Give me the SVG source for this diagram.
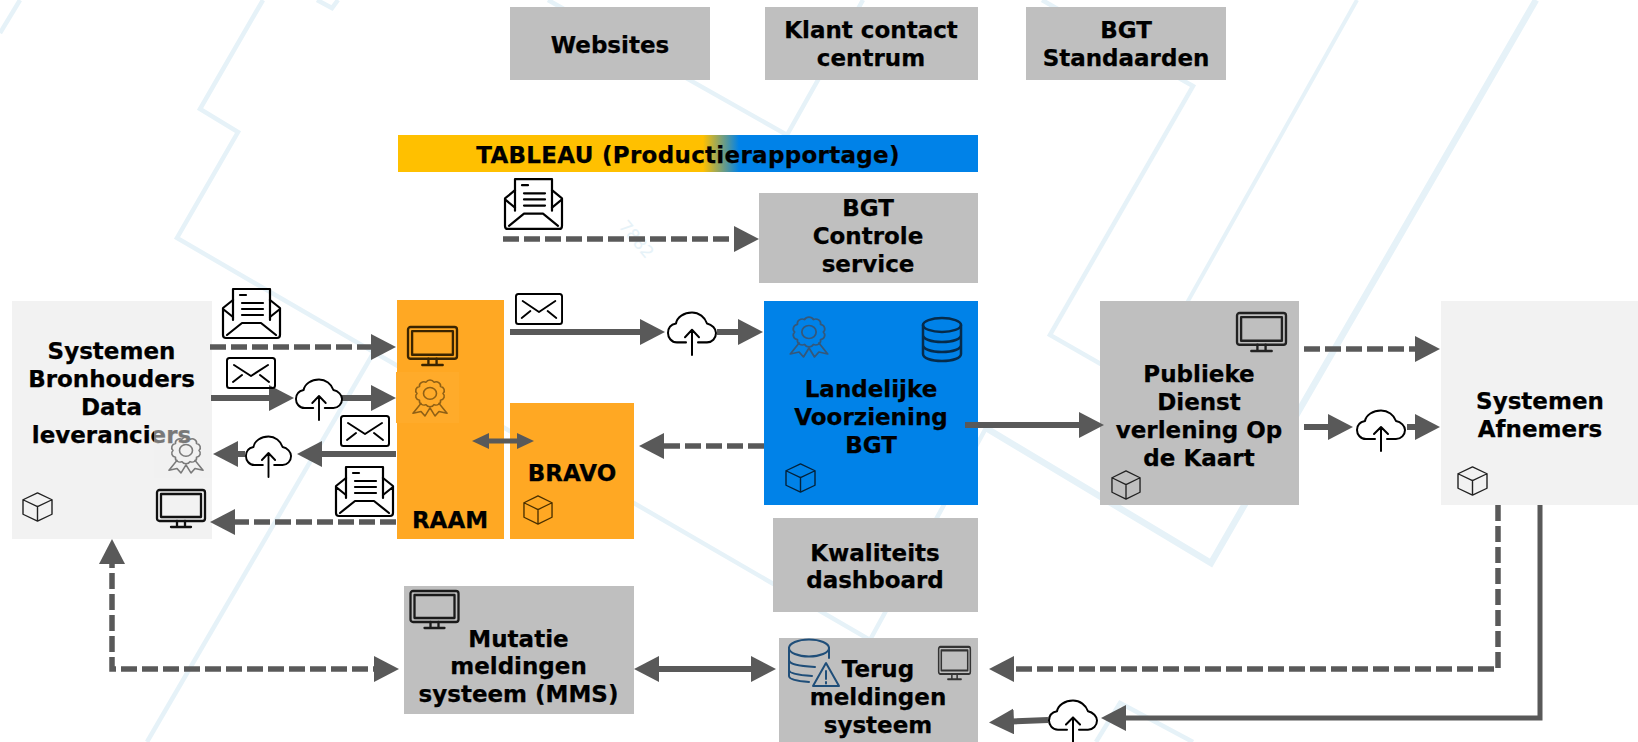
<svg xmlns="http://www.w3.org/2000/svg" width="1638" height="742" viewBox="0 0 1638 742">
<style>
text{font-family:"DejaVu Sans","Liberation Sans",sans-serif;font-weight:700;font-size:23px;fill:#000;stroke:#000;stroke-width:.25;text-anchor:middle}
.grey{fill:#BFBFBF}.orange{fill:#FFA823}.blue{fill:#0082E8}.light{fill:#F2F2F2}
.bg{fill:none;stroke:#E6F2F8;stroke-width:4.500;stroke-linejoin:miter}
.c{fill:none;stroke:#595959;stroke-width:6}
.d{stroke-width:5.500;stroke-dasharray:16 5}
.a{marker-end:url(#head)}
.b{marker-start:url(#head);marker-end:url(#head)}
.i{fill:none;stroke:currentColor;stroke-width:2;stroke-linejoin:round;stroke-linecap:round}
</style>
<defs>
<marker id="head" markerUnits="userSpaceOnUse" viewBox="0 0 25 26" markerWidth="25" markerHeight="26" refX="15" refY="13" orient="auto-start-reverse"><path d="M0 0L25 13L0 26Z" fill="#595959"/></marker>
<marker id="small" markerUnits="userSpaceOnUse" viewBox="0 0 17 16" markerWidth="17" markerHeight="16" refX="9" refY="8" orient="auto-start-reverse"><path d="M0 0L17 8L0 16Z" fill="#595959"/></marker>
<linearGradient id="tab" gradientUnits="userSpaceOnUse" x1="703" x2="739" y1="0" y2="0"><stop offset="0" stop-color="#FFC000"/><stop offset="1" stop-color="#0082E8"/></linearGradient>
<symbol id="cloud" viewBox="0 0 50 41" preserveAspectRatio="none" overflow="visible"><path class="i" d="M19 29H10C4 29 1 24 1 20C1 15 4 12 9 11C10 5 17 .5 25 .5C32 .5 38 5 40 11C45 12 49 16 49 20C49 25 45 29 40 29H31M25 41V17M18 24L25 17L32 24"/></symbol>
<symbol id="monitor" viewBox="0 0 50 40" preserveAspectRatio="none" overflow="visible"><g class="i" style="stroke-width:2.300"><rect x="1" y="1" width="48" height="31" rx="2.500"/><rect x="5" y="5" width="40" height="23"/><path d="M21 32V37M29 32V37M15 38H35"/></g></symbol>
<symbol id="env" viewBox="0 0 50 32" preserveAspectRatio="none" overflow="visible"><g class="i"><rect x="1" y="1" width="48" height="30" rx="2.500"/><path d="M8 8L25 19L42 8M7 25L16 18M43 25L34 18"/></g></symbol>
<symbol id="envdoc" viewBox="0 0 59 51" preserveAspectRatio="none" overflow="visible"><g class="i" style="stroke-width:2.200"><path d="M11 12L1 20V47Q1 50 4 50H55Q58 50 58 47V20L48 12M1 21L11 29M58 21L48 29M5 47L20 35H39L54 47"/><path d="M11 32V1H48V32"/><path d="M18 7H24M20 15H41M20 21H41M20 27H41"/></g></symbol>
<symbol id="award" viewBox="0 -3 40 41" preserveAspectRatio="none" overflow="visible"><g class="i" style="stroke-width:1.600"><path d="M33 13A4.500 4.500 0 0 1 30.500 20.600A4.500 4.500 0 0 1 24 25.400A4.500 4.500 0 0 1 16 25.400A4.500 4.500 0 0 1 9.500 20.600A4.500 4.500 0 0 1 7 13A4.500 4.500 0 0 1 9.500 5.400A4.500 4.500 0 0 1 16 .6A4.500 4.500 0 0 1 24 .6A4.500 4.500 0 0 1 30.500 5.400A4.500 4.500 0 0 1 33 13Z"/><circle cx="20" cy="13" r="6.500"/><path d="M11 24L3 35L11 33L15 38L20 29L25 38L29 33L37 35L29 24"/></g></symbol>
<symbol id="cube" viewBox="0 0 31 31" preserveAspectRatio="none" overflow="visible"><g class="i" style="stroke-width:1.400"><path d="M15.500 1L30 8V23L15.500 30L1 23V8ZM1 8L15.500 15L30 8M15.500 15V30"/></g></symbol>
<symbol id="db" viewBox="0 0 40 45" preserveAspectRatio="none" overflow="visible"><g class="i" style="stroke-width:2.500"><ellipse cx="20" cy="8" rx="19" ry="7"/><path d="M1 8V37C1 41 9 44 20 44C31 44 39 41 39 37V8M1 18C1 22 9 25 20 25C31 25 39 22 39 18M1 28C1 32 9 35 20 35C31 35 39 32 39 28"/></g></symbol>
</defs>
<rect width="1638" height="742" fill="#fff"/>
<g id="background">
<path class="bg" d="M20 0L0 33"/>
<path class="bg" d="M263 0L200 109L238 132L177 238L870 640L986 428"/>
<path class="bg" d="M317 0L332 8L338 0"/>
<path class="bg" d="M374 352L147 742"/>
<path class="bg" d="M548 0L787 135L863 0"/>
<path class="bg" d="M1042 0L1193 86L1050 335L1120 375"/>
<path class="bg" d="M1357 0L1110 440" style="stroke-width:4"/>
<path class="bg" d="M1536 0L1211 563L986 428" style="stroke-width:6.500"/>
<path class="bg" d="M1096 742L1120 703L1193 742"/>
<text transform="translate(632 243) rotate(50)" style="fill:#E6F2F8;stroke:none;font-size:17px;font-weight:400">7882</text>
</g>
<g id="node-websites"><rect class="grey" x="510" y="7" width="200" height="73"/><text x="610" y="53">Websites</text></g>
<g id="node-klant"><rect class="grey" x="765" y="7" width="213" height="73"/><text x="871" y="38">Klant contact</text><text x="871" y="66">centrum</text></g>
<g id="node-standaarden"><rect class="grey" x="1026" y="7" width="200" height="73"/><text x="1126" y="38">BGT</text><text x="1126" y="66">Standaarden</text></g>
<g id="node-tableau"><rect fill="url(#tab)" x="398" y="135" width="580" height="37"/><text x="688" y="163" style="letter-spacing:.3px">TABLEAU (Productierapportage)</text></g>
<g id="node-controle"><rect class="grey" x="759" y="193" width="219" height="90"/><text x="868" y="216">BGT</text><text x="868" y="244">Controle</text><text x="868" y="272">service</text></g>
<g id="node-systemen"><rect class="light" x="12" y="301" width="200" height="238"/><text x="111.500" y="359">Systemen</text><text x="111.500" y="387">Bronhouders</text><text x="111.500" y="415">Data</text><text x="111.500" y="443">leveranciers</text>
<rect x="154" y="430" width="58" height="48" fill="#F0F0F0" opacity=".5"/>
<use href="#award" x="166" y="436" width="40" height="37" style="color:#7a7a7a"/><use href="#cube" x="22" y="492" width="31" height="30" style="color:#222"/><use href="#monitor" x="156" y="489" width="50" height="40" style="color:#111"/></g>
<g id="node-raam"><rect class="orange" x="397" y="300" width="107" height="239"/><rect x="396" y="372" width="63" height="51" fill="#FFAB2A"/><text x="450" y="528">RAAM</text><use href="#monitor" x="407" y="326" width="51" height="41" style="color:#3a2400"/><use href="#award" x="410" y="379" width="40" height="37" style="color:#8f6015"/></g>
<g id="node-bravo"><rect class="orange" x="510" y="403" width="124" height="136"/><text x="572" y="481">BRAVO</text><use href="#cube" x="523" y="495" width="30" height="30" style="color:#4a3000"/></g>
<g id="node-landelijke"><rect class="blue" x="764" y="301" width="214" height="204"/><text x="871" y="397">Landelijke</text><text x="871" y="425">Voorziening</text><text x="871" y="453">BGT</text><use href="#award" x="787" y="316" width="44" height="41" style="color:#35587a"/><use href="#db" x="922" y="317" width="40" height="45" style="color:#062b4a"/><use href="#cube" x="785" y="463" width="31" height="30" style="color:#04223a"/></g>
<g id="node-publieke"><rect class="grey" x="1100" y="301" width="199" height="204"/><text x="1199" y="382">Publieke</text><text x="1199" y="410">Dienst</text><text x="1199" y="438">verlening Op</text><text x="1199" y="466">de Kaart</text><use href="#monitor" x="1236" y="312" width="51" height="41" style="color:#222"/><use href="#cube" x="1111" y="470" width="30" height="30" style="color:#222"/></g>
<g id="node-afnemers"><rect class="light" x="1441" y="301" width="197" height="204"/><text x="1540" y="409">Systemen</text><text x="1540" y="437">Afnemers</text><use href="#cube" x="1457" y="466" width="31" height="30" style="color:#222"/></g>
<g id="node-kwaliteits"><rect class="grey" x="773" y="518" width="205" height="94"/><text x="875" y="561">Kwaliteits</text><text x="875" y="588">dashboard</text></g>
<g id="node-mms"><rect class="grey" x="404" y="586" width="230" height="128"/><text x="518.500" y="647">Mutatie</text><text x="518.500" y="674">meldingen</text><text x="518.500" y="702">systeem (MMS)</text><use href="#monitor" x="409.500" y="590" width="50" height="40" style="color:#1a1a1a"/></g>
<g id="node-terug"><rect class="grey" x="779" y="638" width="199" height="104"/><text x="878" y="677">Terug</text><text x="878" y="705">meldingen</text><text x="878" y="733">systeem</text>
<g class="i" style="color:#1F4E79"><ellipse cx="809" cy="648" rx="20" ry="8.500"/><path d="M789 648V676C789 679 796 681 809 682M829 648V658M789 660C789 664 797 666 815 667M789 670C789 673 797 675 812 676"/><path d="M826 663L813 686H839Z"/><path d="M826 671V679M826 682V683.500"/></g>
<use href="#monitor" x="938" y="646" width="33" height="35" style="color:#333"/></g>
<g id="connectors">
<path class="c d a" d="M503 239H749"/>
<path class="c d a" d="M210 347H386"/>
<path class="c a" d="M211 398H284"/>
<path class="c a" d="M341 398H386"/>
<path class="c a" d="M396 454H307"/>
<path class="c a" d="M245 454H223"/>
<path class="c d a" d="M396 522H220"/>
<path class="c" d="M480 441H526" style="stroke-width:5;marker-start:url(#small);marker-end:url(#small)"/>
<path class="c a" d="M510 332H655"/>
<path class="c a" d="M717 332H753"/>
<path class="c d a" d="M764 446H649"/>
<path class="c a" d="M965 425H1094"/>
<path class="c d a" d="M1304 349H1430"/>
<path class="c a" d="M1304 427H1343"/>
<path class="c a" d="M1407 427H1430"/>
<path class="c d a" d="M1498 505V669H999"/>
<path class="c a" d="M1540 505V718H1111" style="stroke-width:5"/>
<path class="c a" d="M1048 720L999 722"/>
<path class="c b" d="M644 669H766"/>
<path class="c d b" d="M389 669H112V549"/>
<use href="#envdoc" x="504" y="178" width="59" height="52"/>
<use href="#envdoc" x="222" y="288" width="59" height="51"/>
<use href="#envdoc" x="335" y="466" width="59" height="51"/>
<use href="#env" x="226" y="357" width="50" height="32"/>
<use href="#env" x="340" y="415" width="50" height="32"/>
<use href="#env" x="515" y="293" width="48" height="32"/>
<use href="#cloud" x="295" y="379" width="48" height="41"/>
<use href="#cloud" x="245" y="436" width="47" height="41"/>
<use href="#cloud" x="667" y="312" width="50" height="43"/>
<use href="#cloud" x="1356" y="410" width="50" height="41"/>
<use href="#cloud" x="1048" y="700" width="50" height="42"/>
</g>
</svg>
